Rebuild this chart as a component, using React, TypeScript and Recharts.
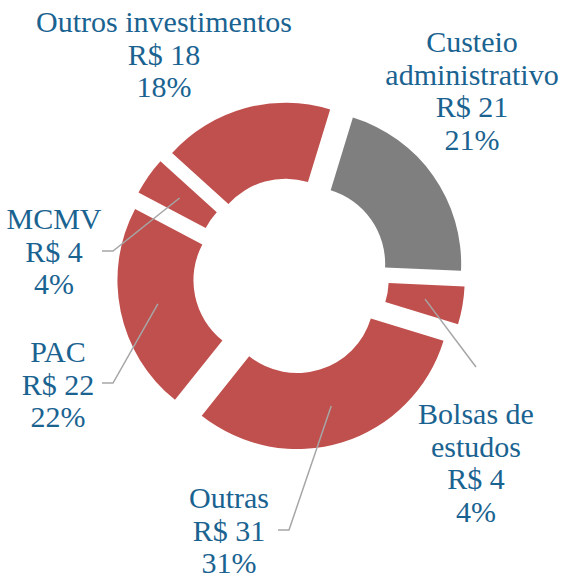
import { PieChart, Pie, Cell, Sector } from 'recharts';

// Valores em R$ (o total é 100, então o valor coincide com o %)
const categories = [
  'Custeio\nadministrativo',
  'Bolsas de\nestudos',
  'Outras',
  'PAC',
  'MCMV',
  'Outros investimentos',
];
const values = [21, 4, 31, 22, 4, 18];
const colors = ['#7f7f7f', '#c0504d', '#c0504d', '#c0504d', '#c0504d', '#c0504d'];

const data = categories.map((name, i) => ({ name, value: values[i] }));

const EXPLODE = 21;
const TEXT_COLOR = '#1a6391';
const LINE_COLOR = '#a6a6a6';
const LINE_H = 32.5;

// label text anchors (center x, first baseline y) and leader line elbow
const labelLayout = [
  { x: 472, y: 52 },
  { x: 476, y: 424, line: [[476, 367]] },
  { x: 229, y: 508, line: [[289, 530], [278, 530]] },
  { x: 58, y: 362, line: [[113, 383], [102, 383]] },
  { x: 54, y: 229, line: [[113, 251], [102, 251]] },
  { x: 164, y: 32 },
];

const RAD = Math.PI / 180;

function ExplodedSector(props: any) {
  const { cx, cy, innerRadius, outerRadius, startAngle, endAngle, fill } = props;
  const mid = (startAngle + endAngle) / 2;
  const dx = Math.cos(-mid * RAD) * EXPLODE;
  const dy = Math.sin(-mid * RAD) * EXPLODE;
  return (
    <Sector
      cx={cx + dx}
      cy={cy + dy}
      innerRadius={innerRadius}
      outerRadius={outerRadius}
      startAngle={startAngle}
      endAngle={endAngle}
      fill={fill}
      stroke="none"
    />
  );
}

function renderLabel(props: any) {
  const { cx, cy, innerRadius, outerRadius, startAngle, endAngle, index, value, percent, name } = props;
  const layout = labelLayout[index];
  const lines = [...String(name).split('\n'), `R$ ${value}`, `${Math.round(percent * 100)}%`];

  let leader = null;
  if (layout.line) {
    const mid = (startAngle + endAngle) / 2;
    const r = (innerRadius + outerRadius) / 2;
    const px = cx + Math.cos(-mid * RAD) * (EXPLODE + r);
    const py = cy + Math.sin(-mid * RAD) * (EXPLODE + r);
    const pts = [[px, py], ...layout.line].map((p) => p.join(',')).join(' ');
    leader = <polyline points={pts} fill="none" stroke={LINE_COLOR} strokeWidth={1.5} />;
  }

  return (
    <g key={`lbl-${index}`}>
      {leader}
      <text
        x={layout.x}
        y={layout.y}
        textAnchor="middle"
        fill={TEXT_COLOR}
        fontFamily="'Liberation Serif', serif"
        fontSize={30}
      >
        {lines.map((t, i) => (
          <tspan key={i} x={layout.x} y={layout.y + i * LINE_H}>
            {t}
          </tspan>
        ))}
      </text>
    </g>
  );
}

export default function App() {
  return (
    <div style={{ position: 'absolute', left: 0, top: 0, background: '#fff' }}>
      <PieChart width={564} height={578} margin={{ top: 0, right: 0, bottom: 0, left: 0 }}>
        <Pie
          data={data}
          dataKey="value"
          nameKey="name"
          cx={291}
          cy={276}
          innerRadius={77}
          outerRadius={153}
          startAngle={73}
          endAngle={-287}
          stroke="none"
          shape={ExplodedSector}
          label={renderLabel}
          labelLine={false}
          isAnimationActive={false}
        >
          {data.map((d, i) => (
            <Cell key={d.name} fill={colors[i]} />
          ))}
        </Pie>
      </PieChart>
    </div>
  );
}
